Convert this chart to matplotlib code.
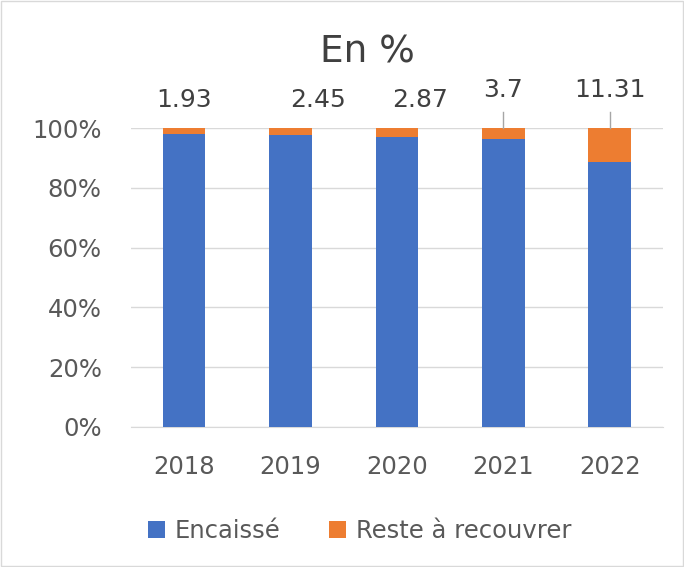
import numpy as np
import matplotlib.pyplot as plt
from matplotlib.patches import Rectangle

annees = ["2018", "2019", "2020", "2021", "2022"]
reste = [1.93, 2.45, 2.87, 3.7, 11.31]
encaisse = [100 - r for r in reste]

# position des etiquettes (decalage en x, hauteur)
lab_dx = [0.0, 0.26, 0.22, 0.0, 0.0]
lab_y = [1.094, 1.094, 1.094, 1.127, 1.127]
leader = [False, False, False, True, True]

bleu = "#4472C4"
orange = "#ED7D31"

plt.rcParams['font.family'] = ['DejaVu Sans']
fig = plt.figure(figsize=(6.84, 5.67), dpi=100)
ax = fig.add_axes([0.1915, 0.247, 0.7775, 0.527])

x = np.arange(len(annees))
enc = np.array(encaisse) / 100
rst = np.array(reste) / 100
ax.bar(x, enc, width=0.4, color=bleu, label="Encaissé", zorder=3)
ax.bar(x, rst, width=0.4, bottom=enc, color=orange, label="Reste à recouvrer", zorder=3)

for i in range(len(annees)):
    ax.text(x[i] + lab_dx[i], lab_y[i], str(reste[i]), ha="center", va="center",
            fontsize=18, color="#404040", clip_on=False)
    if leader[i]:
        ax.plot([x[i], x[i]], [1.0, 1.054], color="#A6A6A6", lw=1, clip_on=False, zorder=4)

ax.set_xlim(-0.5, 4.5)
ax.set_ylim(0, 1)
ax.set_yticks(np.arange(0, 1.01, 0.2))
ax.set_yticklabels([f"{int(round(v*100))}%" for v in np.arange(0, 1.01, 0.2)])
ax.set_xticks(x)
ax.set_xticklabels(annees)
ax.tick_params(axis="both", length=0, labelsize=17.5, colors="#595959")
ax.tick_params(axis="x", pad=20)
ax.tick_params(axis="y", pad=21)
ax.grid(axis="y", color="#D9D9D9", lw=1, zorder=0)
for s in ["top", "right", "left"]:
    ax.spines[s].set_visible(False)
ax.spines["bottom"].set_color("#D9D9D9")

fig.text(0.537, 0.908, "En %", ha="center", va="center", fontsize=27, color="#404040")
fig.legend(loc="center", bbox_to_anchor=(0.526, 0.064), ncol=2, frameon=False,
           fontsize=17.5, labelcolor="#595959", handlelength=0.7, handleheight=0.7,
           columnspacing=2.0, handletextpad=0.4)

fig.patches.append(Rectangle((0.002, 0.002), 0.996, 0.996, transform=fig.transFigure,
                             fill=False, edgecolor="#D9D9D9", lw=1))
fig.savefig("out.png", dpi=100)
